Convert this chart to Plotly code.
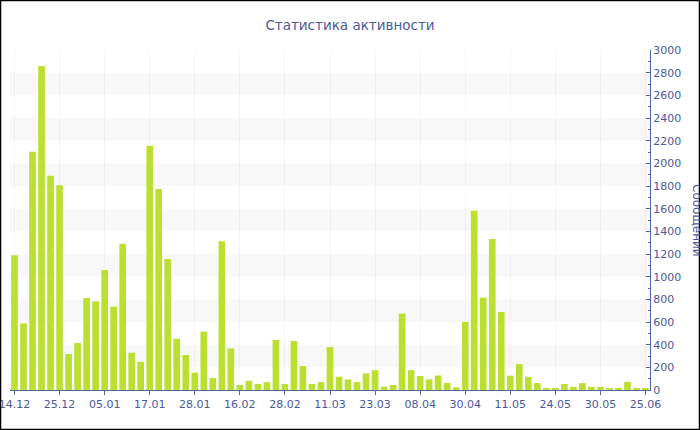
import plotly.graph_objects as go

# Data
values = [1190, 588, 2103, 2859, 1891, 1806, 318, 415, 812, 782,
          1059, 735, 1291, 329, 248, 2156, 1774, 1156, 452, 309,
          153, 515, 105, 1312, 367, 44, 82, 53, 70, 441,
          52, 432, 212, 53, 70, 379, 118, 93, 70, 147,
          175, 29, 44, 674, 175, 124, 94, 128, 63, 23,
          600, 1582, 815, 1332, 688, 126, 228, 116, 61, 18,
          11, 53, 28, 61, 28, 28, 11, 18, 73, 9, 9]
tick_labels = ["14.12", "25.12", "05.01", "17.01", "28.01", "16.02", "28.02",
               "11.03", "23.03", "08.04", "30.04", "11.05", "24.05", "30.05", "25.06"]
label_step = 5
title_text = "Статистика активности"
y_title = "Сообщений"
y_max = 3000
y_step = 200

positions = list(range(len(values)))
tick_positions = positions[::label_step]

W, H = 700, 430
ML, MR, MT, MB = 10, 50, 50, 40
PW, PH = W - ML - MR, H - MT - MB

text_color = "#4a5a9c"
axis_color = "#5266a6"
bar_color = "#bbe032"
font_family = "DejaVu Sans"

fig = go.Figure()
fig.add_trace(go.Bar(
    x=positions, y=values,
    marker=dict(color=bar_color, line=dict(width=0)),
    hoverinfo="y",
))

shapes = []
# alternating light bands
for b in range(y_step, y_max, 2 * y_step):
    shapes.append(dict(type="rect", xref="paper", yref="y", x0=0, x1=1,
                       y0=b, y1=b + y_step, fillcolor="#f8f8f8",
                       line=dict(width=0), layer="below"))
# outer black border
shapes.append(dict(type="rect", xref="paper", yref="paper",
                   x0=(0.5 - ML) / PW, x1=(W - 0.5 - ML) / PW,
                   y0=(PH + MT - (H - 0.5)) / PH, y1=(PH + MT - 0.5) / PH,
                   line=dict(color="black", width=1.5), fillcolor="rgba(0,0,0,0)",
                   layer="above"))

fig.update_layout(
    width=W, height=H,
    margin=dict(l=ML, r=MR, t=MT, b=MB, autoexpand=False),
    paper_bgcolor="white", plot_bgcolor="white",
    font=dict(family=font_family, size=11, color=text_color),
    title=dict(text=title_text, x=0.5, xanchor="center", xref="container",
               y=1 - 25 / H, yanchor="middle",
               font=dict(family=font_family, size=13.5, color=text_color)),
    bargap=0.26,
    showlegend=False,
    shapes=shapes,
    annotations=[dict(text=y_title, xref="paper", yref="paper", x=1, y=0.5,
                      xshift=47, textangle=90, showarrow=False,
                      xanchor="center", yanchor="middle",
                      font=dict(family=font_family, size=12, color=text_color))],
)
fig.update_xaxes(
    range=[-0.5, len(values) - 0.5],
    tickmode="array", tickvals=tick_positions, ticktext=tick_labels,
    showline=True, linecolor=axis_color, linewidth=1,
    ticks="outside", ticklen=4, tickcolor=axis_color,
    showgrid=True, gridcolor="rgba(0,0,0,0.035)",
    zeroline=False, ticklabeloverflow="allow", automargin=False,
    tickfont=dict(family=font_family, size=11, color=text_color),
)
fig.update_yaxes(
    side="right", range=[0, y_max], dtick=y_step, tick0=0,
    showline=True, linecolor=axis_color, linewidth=1,
    ticks="inside", ticklen=4, tickcolor=axis_color,
    minor=dict(ticks="inside", ticklen=2, dtick=y_step / 2, tickcolor=axis_color, showgrid=False),
    showgrid=False, zeroline=False, automargin=False,
    tickfont=dict(family=font_family, size=11, color=text_color),
)

fig.write_html("out.html", config={"displayModeBar": False},
               post_script="document.body.style.margin='0';document.body.style.overflow='hidden';")
